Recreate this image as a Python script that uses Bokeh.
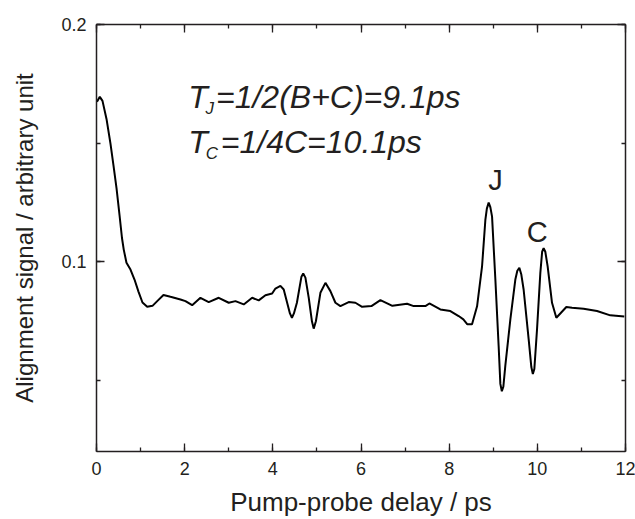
from bokeh.plotting import figure
from bokeh.models import Range1d, LinearAxis, SingleIntervalTicker, Label, CustomJSTickFormatter
from bokeh.embed import file_html
from bokeh.resources import INLINE

delay_ps = [0.011, 0.075, 0.136, 0.227, 0.317, 0.385, 0.454, 0.522, 0.578, 0.619,
            0.680, 0.771, 0.862, 0.952, 1.043, 1.150, 1.270, 1.383, 1.519,
            1.678, 1.905, 2.018, 2.170, 2.358, 2.546, 2.773,
            3.000, 3.152, 3.340, 3.531, 3.680, 3.832, 3.984, 4.059, 4.172, 4.247,
            4.388, 4.433, 4.478, 4.546, 4.649, 4.689, 4.739, 4.814, 4.887, 4.927,
            4.977, 5.079, 5.193, 5.306, 5.420, 5.533, 5.721, 5.873, 6.025, 6.236,
            6.440, 6.712, 7.045, 7.195, 7.460, 7.551, 7.800, 8.027, 8.215, 8.322,
            8.413, 8.519, 8.633, 8.746, 8.821, 8.855, 8.896, 8.934, 8.973, 9.048,
            9.122, 9.161, 9.195, 9.229, 9.274, 9.388, 9.501, 9.546, 9.592, 9.637,
            9.689, 9.803, 9.864, 9.898, 9.932, 9.993, 10.068, 10.109, 10.143, 10.181,
            10.234, 10.333, 10.431, 10.537, 10.658, 10.787, 11.050, 11.354, 11.655, 11.973]
signal = [0.1674, 0.1695, 0.1678, 0.1602, 0.1498, 0.1406, 0.1310, 0.1197, 0.1100, 0.1050,
          0.0996, 0.0967, 0.0925, 0.0874, 0.0828, 0.0810, 0.0814, 0.0835, 0.0860,
          0.0852, 0.0841, 0.0834, 0.0817, 0.0848, 0.0830, 0.0848,
          0.0827, 0.0834, 0.0820, 0.0848, 0.0837, 0.0859, 0.0866, 0.0887, 0.0898, 0.0883,
          0.0782, 0.0764, 0.0782, 0.0827, 0.0937, 0.0950, 0.0933, 0.0849, 0.0749, 0.0718,
          0.0749, 0.0869, 0.0911, 0.0876, 0.0827, 0.0813, 0.0830, 0.0827, 0.0810, 0.0813,
          0.0838, 0.0814, 0.0823, 0.0813, 0.0813, 0.0824, 0.0799, 0.0792, 0.0771, 0.0757,
          0.0736, 0.0736, 0.0812, 0.0980, 0.1176, 0.1224, 0.1249, 0.1230, 0.1190, 0.0925,
          0.0646, 0.0485, 0.0454, 0.0473, 0.0562, 0.0757, 0.0925, 0.0962, 0.0974, 0.0946,
          0.0883, 0.0674, 0.0556, 0.0527, 0.0548, 0.0715, 0.0953, 0.1042, 0.1057, 0.1042,
          0.0980, 0.0827, 0.0764, 0.0785, 0.0809, 0.0806, 0.0802, 0.0792, 0.0774, 0.0769]

x_label = "Pump-probe delay / ps"
y_label = "Alignment signal / arbitrary unit"
peak_labels = ["J", "C"]
peak_x = [9.05, 10.0]
peak_y = [0.1343, 0.1126]

INK = "#231f20"
FONT = "Liberation Sans"

p = figure(width=635, height=519, output_backend="svg", toolbar_location=None,
           x_range=Range1d(0, 12), y_range=Range1d(0.02, 0.2),
           min_border_left=96, min_border_right=10, min_border_top=24, min_border_bottom=66,
           background_fill_color="white", border_fill_color="white")
p.grid.visible = False
p.outline_line_color = None

p.line(delay_ps, signal, line_color="black", line_width=2)

xt = SingleIntervalTicker(interval=2, num_minor_ticks=2)
yt = SingleIntervalTicker(interval=0.1, num_minor_ticks=2)

def style(ax, labels=True):
    ax.axis_line_color = INK
    ax.axis_line_width = 1.5
    ax.major_tick_line_color = INK
    ax.minor_tick_line_color = INK
    ax.major_tick_line_width = 1.3
    ax.minor_tick_line_width = 1.3
    ax.major_tick_in = 8
    ax.major_tick_out = 0
    ax.minor_tick_in = 4
    ax.minor_tick_out = 0
    if labels:
        ax.major_label_text_font = FONT
        ax.major_label_text_font_size = "18px"
        ax.major_label_text_color = INK
        ax.major_label_standoff = 10
        ax.axis_label_text_font = FONT
        ax.axis_label_text_font_style = "normal"
        ax.axis_label_text_color = INK
    else:
        ax.major_label_text_font_size = "0px"
        ax.major_label_standoff = 0
        ax.formatter = CustomJSTickFormatter(code="return ''")

xa = p.xaxis[0]
xa.ticker = xt
xa.axis_label = x_label
style(xa)
xa.axis_label_text_font_size = "26px"
xa.axis_label_standoff = 9

ya = p.yaxis[0]
ya.ticker = yt
ya.axis_label = y_label
style(ya)
ya.axis_label_text_font_size = "24px"
ya.axis_label_standoff = 20

top = LinearAxis(ticker=SingleIntervalTicker(interval=2, num_minor_ticks=2))
style(top, labels=False)
p.add_layout(top, "above")
right = LinearAxis(ticker=SingleIntervalTicker(interval=0.1, num_minor_ticks=2))
style(right, labels=False)
p.add_layout(right, "right")

def lab(x, y, t, size, italic=True, align="left"):
    p.add_layout(Label(x=x, y=y, text=t, text_font=FONT, text_font_size=size,
                       text_font_style="italic" if italic else "normal",
                       text_color=INK, text_align=align, text_baseline="alphabetic"))

# T_J line
lab(2.08, 0.1695, "T", "32px")
lab(2.47, 0.1644, "J", "17px")
lab(2.71, 0.1695, "=1/2(B+C)=9.1ps", "32px")
# T_C line
lab(2.08, 0.1506, "T", "32px")
lab(2.48, 0.1456, "C", "17px")
lab(2.82, 0.1506, "=1/4C=10.1ps", "32px")

for t, x, y in zip(peak_labels, peak_x, peak_y):
    lab(x, y, t, "29px", italic=False, align="center")

open("out.html", "w").write(file_html(p, INLINE))
